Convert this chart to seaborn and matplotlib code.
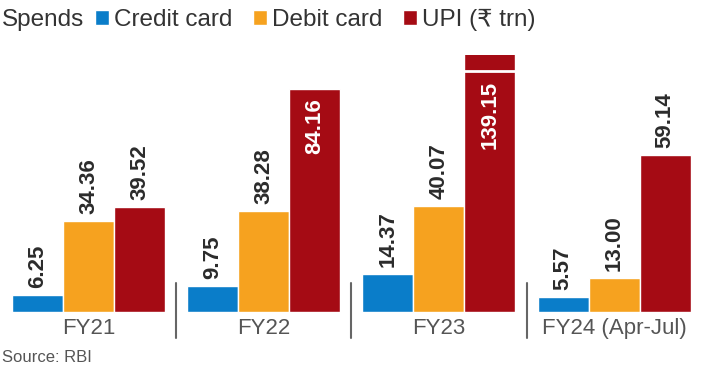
import matplotlib
matplotlib.use("Agg")
import matplotlib.pyplot as plt
import seaborn as sns
import pandas as pd

# Data (₹ trillion)
years = ["FY21", "FY22", "FY23", "FY24 (Apr-Jul)"]
series = ["Credit card", "Debit card", "UPI (₹ trn)"]
credit = [6.25, 9.75, 14.37, 5.57]
debit = [34.36, 38.28, 40.07, 13.00]
upi = [39.52, 84.16, 139.15, 59.14]
colors = ["#0a7dc9", "#f6a21f", "#a50b14"]

df = pd.DataFrame({
    "year": years * 3,
    "kind": [series[0]] * 4 + [series[1]] * 4 + [series[2]] * 4,
    "value": credit + debit + upi,
})

sns.set_style("white")
fonts = ["Liberation Sans", "DejaVu Sans"]
plt.rcParams["font.family"] = fonts

fig = plt.figure(figsize=(7.03, 3.80), dpi=100)
ax = fig.add_axes([0, 68 / 380, 1, 257 / 380])

sns.barplot(data=df, x="year", y="value", hue="kind", palette=colors,
            width=0.873, errorbar=None, saturation=1, ax=ax, legend=True)

ax.set_ylim(0, 97)
ax.set_xlim(-0.505, 3.507)
ax.set_xlabel("")
ax.set_ylabel("")
ax.set_yticks([])
for s in ax.spines.values():
    s.set_visible(False)
ax.tick_params(axis="x", length=0, pad=4)
for lab in ax.get_xticklabels():
    lab.set_fontsize(16)
    lab.set_color("#555555")

# value labels
ybreak = 91
for cont in ax.containers:
    for bar in cont:
        h = bar.get_height()
        xc = bar.get_x() + bar.get_width() / 2
        if h > 80:
            ax.annotate(f"{h:.2f}", (xc, min(h, ybreak)), xytext=(0, -7),
                        textcoords="offset points", rotation=90, ha="center",
                        va="top", color="white", fontsize=16,
                        fontweight="bold")
        else:
            ax.annotate(f"{h:.2f}", (xc, h), xytext=(0, 5),
                        textcoords="offset points", rotation=90, ha="center",
                        va="bottom", color="#2b2b2b", fontsize=16,
                        fontweight="bold")
        if h > 97:
            ax.hlines(ybreak, bar.get_x(), bar.get_x() + bar.get_width(),
                      color="white", lw=2, zorder=5)

# group separators
for xs in [0.5, 1.5, 2.5]:
    ax.axvline(xs, ymin=-26 / 257, ymax=29 / 257, color="#666666", lw=1.5,
               clip_on=False)

# legend row
handles, labels = ax.get_legend_handles_labels()
ax.get_legend().remove()
fig.text(2 / 703, 1 - 20 / 380, "Spends", ha="left", va="center",
         fontsize=17.5, color="#333333")
fig.legend(handles, labels, loc="center left",
           bbox_to_anchor=(95 / 703, 1 - 20 / 380), ncol=3, frameon=False,
           fontsize=17.5, handlelength=0.58, handleheight=0.58,
           handletextpad=0.2, columnspacing=0.85, borderpad=0,
           borderaxespad=0, labelcolor="#333333")

fig.text(2 / 703, 1 - 357 / 380, "Source: RBI", ha="left", va="center",
         fontsize=12, color="#555555")

fig.savefig("out.png", dpi=100, facecolor="white")
